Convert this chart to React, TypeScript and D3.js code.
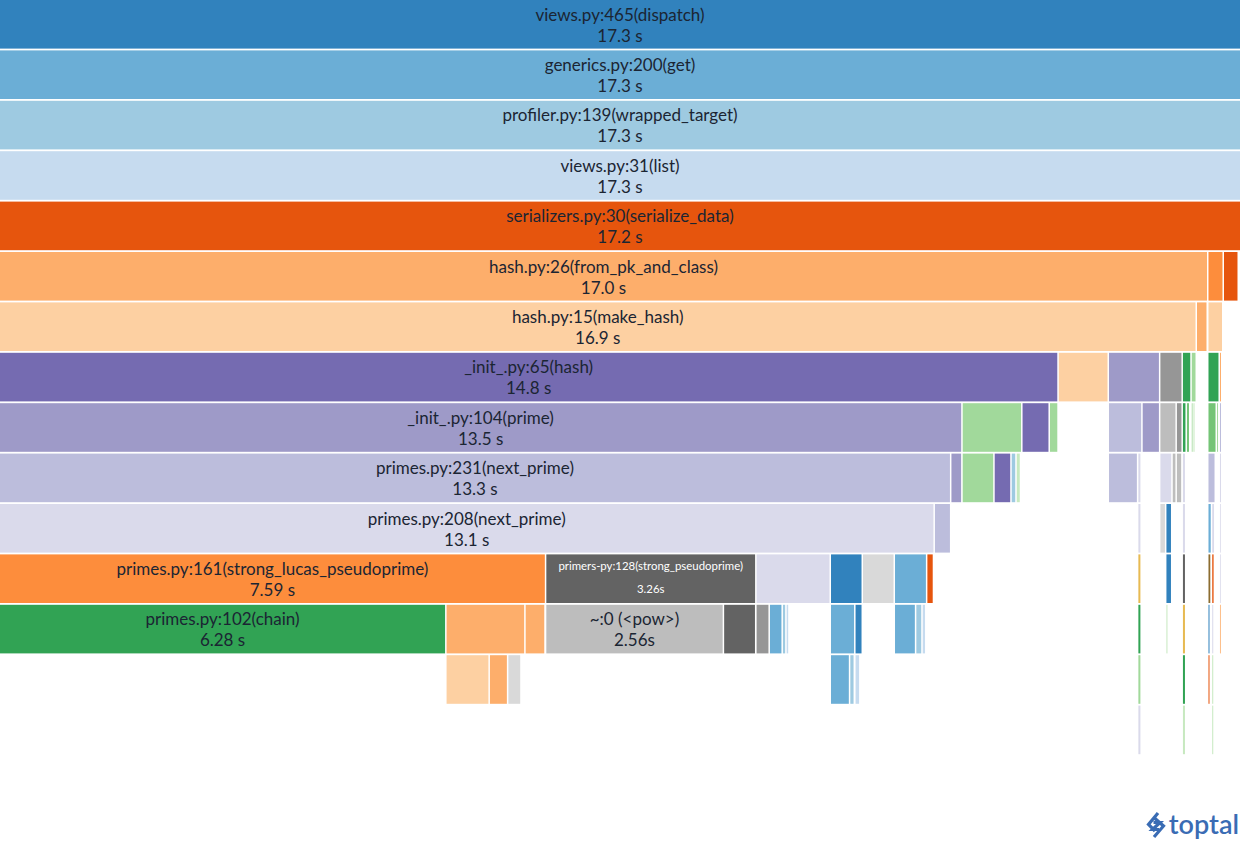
import React from 'react';
import * as d3 from 'd3';

// frame rows: [id, parent, label, time label, seconds, tone]
type Frame = [string, string, string, string, number, number];

const palette = [
    '#3182bd', '#6baed6', '#9ecae1', '#c6dbef', '#e6550d', '#fd8d3c', '#fdae6b', '#fdd0a2',
    '#31a354', '#74c476', '#a1d99b', '#c7e9c0', '#756bb1', '#9e9ac8', '#bcbddc', '#dadaeb',
    '#636363', '#969696', '#bdbdbd', '#d9d9d9', '#8c6d31', '#e7ba52',
];

const callStack: Frame[] = [
    ['d', '', 'views.py:465(dispatch)', '17.3 s', 17.3, 0],
    ['g', 'd', 'generics.py:200(get)', '17.3 s', 17.3, 1],
    ['w', 'g', 'profiler.py:139(wrapped_target)', '17.3 s', 17.3, 2],
    ['l', 'w', 'views.py:31(list)', '17.3 s', 17.3, 3],
    ['s', 'l', 'serializers.py:30(serialize_data)', '17.2 s', 17.3, 4],
    ['h26', 's', 'hash.py:26(from_pk_and_class)', '17.0 s', 16.84, 6],
    ['s2', 's', '', '', 0.216, 5],
    ['s3', 's', '', '', 0.209, 4],
    ['h15', 'h26', 'hash.py:15(make_hash)', '16.9 s', 16.68, 7],
    ['h26b', 'h26', '', '', 0.153, 6],
    ['s2a', 's2', '', '', 0.209, 7],
];

const hashFrames: Frame[] = [
    ['i65', 'h15', '_init_.py:65(hash)', '14.8 s', 14.754, 12],
    ['h15a', 'h15', '', '', 0.7, 7],
    ['h15b', 'h15', '', '', 0.716, 13],
    ['h15c', 'h15', '', '', 0.314, 17],
    ['h15d', 'h15', '', '', 0.123, 8],
    ['h15e', 'h15', '', '', 0.073, 10],
    ['s2b', 's2a', '', '', 0.16, 8],
    ['s2c', 's2a', '', '', 0.035, 6],
    ['i104', 'i65', '_init_.py:104(prime)', '13.5 s', 13.415, 13],
    ['i65a', 'i65', '', '', 0.834, 10],
    ['i65b', 'i65', '', '', 0.382, 12],
    ['i65c', 'i65', '', '', 0.123, 10],
    ['h15b1', 'h15b', '', '', 0.469, 14],
    ['h15b2', 'h15b', '', '', 0.247, 13],
    ['h15c1', 'h15c', '', '', 0.23, 18],
    ['h15c2', 'h15c', '', '', 0.084, 17],
    ['h15d1', 'h15d', '', '', 0.056, 8],
    ['h15d2', 'h15d', '', '', 0.049, 9],
    ['h15e1', 'h15e', '', '', 0.024, 10],
    ['h15e2', 'h15e', '', '', 0.035, 11],
    ['s2b1', 's2b', '', '', 0.119, 9],
    ['s2b2', 's2b', '', '', 0.035, 10],
    ['s2c1', 's2c', '', '', 0.035, 14],
    ['p231', 'i104', 'primes.py:231(next_prime)', '13.3 s', 13.258, 14],
    ['i104a', 'i104', '', '', 0.156, 13],
    ['i65a1', 'i65a', '', '', 0.446, 10],
    ['i65a2', 'i65a', '', '', 0.237, 12],
    ['i65a3', 'i65a', '', '', 0.07, 2],
    ['i65a4', 'i65a', '', '', 0.063, 11],
    ['h15b1a', 'h15b1', '', '', 0.409, 14],
    ['h15b1b', 'h15b1', '', '', 0.049, 15],
    ['h15c1a', 'h15c1', '', '', 0.172, 15],
    ['h15c1b', 'h15c1', '', '', 0.058, 18],
    ['h15c2a', 'h15c2', '', '', 0.08, 18],
    ['h15d1a', 'h15d1', '', '', 0.049, 15],
    ['s2b1a', 's2b1', '', '', 0.105, 14],
    ['s2c1a', 's2c1', '', '', 0.035, 15],
];

const primeFrames: Frame[] = [
    ['p208', 'p231', 'primes.py:208(next_prime)', '13.1 s', 13.028, 15],
    ['p231a', 'p231', '', '', 0.23, 14],
    ['h15b1b1', 'h15b1b', '', '', 0.049, 15],
    ['h15c1a1', 'h15c1a', '', '', 0.084, 19],
    ['h15c1a2', 'h15c1a', '', '', 0.084, 0],
    ['h15d1a1', 'h15d1a', '', '', 0.049, 15],
    ['s2b1a1', 's2b1a', '', '', 0.052, 1],
    ['s2b1a2', 's2b1a', '', '', 0.046, 15],
    ['s2c1a1', 's2c1a', '', '', 0.03, 15],
    ['p161', 'p208', 'primes.py:161(strong_lucas_pseudoprime)', '7.59 s', 7.613, 5],
    ['p128', 'p208', 'primers-py:128(strong_pseudoprime)', '3.26s', 2.93, 16],
    ['p208a', 'p208', '', '', 1.037, 15],
    ['p208b', 'p208', '', '', 0.446, 0],
    ['p208c', 'p208', '', '', 0.446, 19],
    ['p208d', 'p208', '', '', 0.451, 1],
    ['p208e', 'p208', '', '', 0.095, 4],
    ['h15b1b2', 'h15b1b1', '', '', 0.049, 21],
    ['h15c1a3', 'h15c1a2', '', '', 0.084, 0],
    ['h15d1a2', 'h15d1a1', '', '', 0.049, 16],
    ['s2b1a3', 's2b1a1', '', '', 0.046, 20],
    ['s2b1a4', 's2b1a2', '', '', 0.04, 4],
    ['s2c1a2', 's2c1a1', '', '', 0.028, 15],
];

const deepFrames: Frame[] = [
    ['p102', 'p161', 'primes.py:102(chain)', '6.28 s', 6.223, 8],
    ['p161a', 'p161', '', '', 1.102, 6],
    ['p161b', 'p161', '', '', 0.28, 6],
    ['pow', 'p128', '~:0 (<pow>)', '2.56s', 2.478, 18],
    ['p128a', 'p128', '', '', 0.45, 16],
    ['p208a1', 'p208a', '', '', 0.186, 17],
    ['p208a2', 'p208a', '', '', 0.181, 1],
    ['p208a3', 'p208a', '', '', 0.052, 2],
    ['p208a4', 'p208a', '', '', 0.042, 3],
    ['p208b1', 'p208b', '', '', 0.342, 1],
    ['p208b2', 'p208b', '', '', 0.104, 0],
    ['p208d1', 'p208d', '', '', 0.297, 1],
    ['p208d2', 'p208d', '', '', 0.089, 2],
    ['p208d3', 'p208d', '', '', 0.053, 3],
    ['h15b1b3', 'h15b1b2', '', '', 0.049, 8],
    ['h15c1a4', 'h15c1a3', '', '', 0.035, 11],
    ['h15d1a3', 'h15d1a2', '', '', 0.049, 21],
    ['s2b1a5', 's2b1a3', '', '', 0.035, 0],
    ['s2b1a6', 's2b1a4', '', '', 0.035, 15],
    ['s2c1a3', 's2c1a2', '', '', 0.028, 6],
    ['p161a1', 'p161a', '', '', 0.604, 7],
    ['p161a2', 'p161a', '', '', 0.257, 6],
    ['p161a3', 'p161a', '', '', 0.186, 19],
    ['p208b1a', 'p208b1', '', '', 0.269, 1],
    ['p208b1b', 'p208b1', '', '', 0.066, 2],
    ['p208b2a', 'p208b2', '', '', 0.07, 3],
    ['h15b1b4', 'h15b1b3', '', '', 0.049, 10],
    ['h15d1a4', 'h15d1a3', '', '', 0.049, 8],
    ['s2b1a7', 's2b1a5', '', '', 0.035, 4],
    ['s2b1a8', 's2b1a6', '', '', 0.035, 11],
    ['h15b1b5', 'h15b1b4', '', '', 0.049, 15],
    ['h15d1a5', 'h15d1a4', '', '', 0.049, 11],
    ['s2b1a9', 's2b1a8', '', '', 0.035, 11],
];

const FONT = 'Lato, "Open Sans", sans-serif';
const BASE_SIZE = 17;

let ctx: CanvasRenderingContext2D | null = null;
const measure = (text: string, size: number) => {
    if (!ctx) ctx = document.createElement('canvas').getContext('2d');
    if (!ctx) return text.length * size * 0.5;
    ctx.font = `${size}px ${FONT}`;
    return ctx.measureText(text).width;
};

interface Row {
    id: string;
    parent: string;
    label: string;
    time: string;
    total: number;
    tone: number;
    self: number;
}

const App: React.FC = () => {
    const width = 1240;
    const height = 841;
    const rowH = 50.4;

    const frames = [...callStack, ...hashFrames, ...primeFrames, ...deepFrames];
    const rows: Row[] = frames.map(([id, parent, label, time, total, tone]) => ({
        id, parent, label, time, total, tone, self: 0,
    }));
    // self time = total minus what the children account for
    rows.forEach((r) => {
        const kids = d3.sum(rows.filter((c) => c.parent === r.id), (c) => c.total);
        r.self = Math.max(0, r.total - kids);
    });

    const root = d3
        .stratify<Row>()
        .id((d) => d.id)
        .parentId((d) => d.parent || null)(rows)
        .sum((d) => d.self);

    const depthCount = root.height + 1;
    const layout = d3.partition<Row>().size([1, depthCount])(root);

    const x = d3.scaleLinear().domain([0, 1]).range([0, width + 1.5]);
    const y = d3.scaleLinear().domain([0, depthCount]).range([0, depthCount * rowH]);
    const color = d3.scaleOrdinal<number, string>().domain(d3.range(palette.length)).range(palette);

    const nodes = layout.descendants();

    return (
        <svg
            width={width}
            height={height}
            style={{ position: 'absolute', left: 0, top: 0, background: '#fff' }}
            fontFamily={FONT}
        >
            {nodes.map((n) => {
                const x0 = x(n.x0);
                const w = Math.max(0.8, x(n.x1) - x0 - 1.5);
                const y0 = y(n.y0);
                const h = y(n.y1) - y0 - 1.8;
                const fill = color(n.data.tone);
                const showLabel = n.data.label !== '' && w > 100;
                let size = BASE_SIZE;
                if (showLabel) {
                    const tw = measure(n.data.label, BASE_SIZE);
                    if (tw > w - 24) size = (BASE_SIZE * (w - 24)) / tw;
                }
                const small = size < BASE_SIZE - 2;
                const ink = d3.lab(fill).l < 47 ? '#ffffff' : '#1b2533';
                const cx = x0 + w / 2;
                return (
                    <g key={n.id}>
                        <rect x={x0} y={y0} width={w} height={h} fill={fill} />
                        {showLabel && (
                            <g fill={ink} textAnchor="middle" fontSize={size}>
                                <text x={cx} y={y0 + (small ? 11 : 14)} dominantBaseline="central">
                                    {n.data.label}
                                </text>
                                <text x={cx} y={y0 + (small ? 34 : 35)} dominantBaseline="central">
                                    {n.data.time}
                                </text>
                            </g>
                        )}
                    </g>
                );
            })}
            <g fill="none" stroke="#3a6cb4" strokeWidth={3.2} strokeLinejoin="miter">
                <path d="M1158 813 L1148.5 824.5 L1155 831 M1155 818.5 L1163.5 826 L1154 837 M1153.5 822.5 L1160 822.5 L1152.5 829.5 L1159 829.5" />
            </g>
            <text x={1239} y={834} fontSize={27} fontWeight={600} fill="#3a6cb4" textAnchor="end" fontFamily={FONT}>
                toptal
            </text>
        </svg>
    );
};

export default App;
